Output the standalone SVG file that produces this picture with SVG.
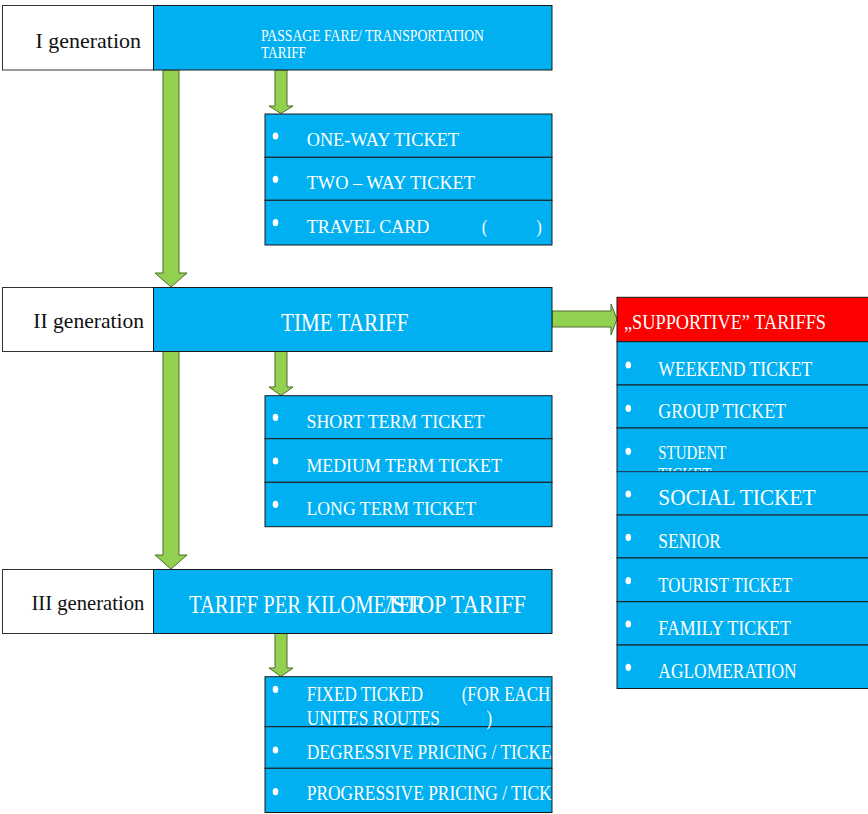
<svg xmlns="http://www.w3.org/2000/svg" width="868" height="814" viewBox="0 0 868 814">
<style>
.lbl{fill:#fff;stroke:#333;stroke-width:1}
.blue{fill:#00B0F0;stroke:#1a1a1a;stroke-width:1}
.red{fill:#FF0000;stroke:#1a1a1a;stroke-width:1}
.arr{fill:#92D050;stroke:#4E6B2E;stroke-width:1}
.t{font-family:"Liberation Serif","Times New Roman",serif;fill:#fff}
.k{font-family:"Liberation Serif","Times New Roman",serif;fill:#111;font-size:22px}
.bul{fill:#fff}
</style>
<defs>
<clipPath id="c3"><rect x="265" y="676" width="287" height="137"/></clipPath>
<clipPath id="cst"><rect x="617" y="428" width="251" height="44"/></clipPath>
</defs>

<g id="connectors">
<polygon class="arr" points="163,70 179,70 179,273 187,273 171,287 155,273 163,273"/>
<polygon class="arr" points="163,351 179,351 179,555 187,555 171,569 155,555 163,555"/>
<polygon class="arr" points="275,70 287,70 287,106 293,106 281,113.5 269,106 275,106"/>
<polygon class="arr" points="275,351 287,351 287,387 293,387 281,395.5 269,387 275,387"/>
<polygon class="arr" points="275,633 287,633 287,668 293,668 281,676.5 269,668 275,668"/>
<polygon class="arr" points="552,311 611,311 611,304 617,319 611,335 611,327 552,327"/>
</g>

<g id="gen1">
<rect class="lbl" x="2.5" y="5.5" width="151" height="64.5"/>
<text class="k" x="35.5" y="47.7" textLength="105.5" lengthAdjust="spacingAndGlyphs">I generation</text>
</g>
<g id="passage">
<rect class="blue" x="153.5" y="5.5" width="398.5" height="64.5"/>
<text class="t" x="261" y="40.7" font-size="16" textLength="223" lengthAdjust="spacingAndGlyphs">PASSAGE FARE/ TRANSPORTATION</text>
<text class="t" x="261" y="58.3" font-size="16" textLength="45" lengthAdjust="spacingAndGlyphs">TARIFF</text>
</g>

<g id="list1">
<rect class="blue" x="265" y="114" width="287" height="43.3"/>
<rect class="blue" x="265" y="157.3" width="287" height="43"/>
<rect class="blue" x="265" y="200.3" width="287" height="44.7"/>
<ellipse class="bul" cx="275.5" cy="136" rx="2.8" ry="3.6"/>
<ellipse class="bul" cx="275.5" cy="179.3" rx="2.8" ry="3.6"/>
<ellipse class="bul" cx="275.5" cy="222.7" rx="2.8" ry="3.6"/>
<text class="t" x="306.7" y="146" font-size="19.5" textLength="152.3" lengthAdjust="spacingAndGlyphs">ONE-WAY TICKET</text>
<text class="t" x="306.7" y="189.3" font-size="19.5" textLength="168.3" lengthAdjust="spacingAndGlyphs">TWO – WAY TICKET</text>
<text class="t" x="306.7" y="232.7" font-size="19.5" textLength="122.6" lengthAdjust="spacingAndGlyphs">TRAVEL CARD</text>
<text class="t" x="481.7" y="232.7" font-size="19.5" textLength="5.5" lengthAdjust="spacingAndGlyphs">(</text>
<text class="t" x="536.2" y="232.7" font-size="19.5" textLength="5.5" lengthAdjust="spacingAndGlyphs">)</text>
</g>

<g id="gen2">
<rect class="lbl" x="2.5" y="287.5" width="151" height="64"/>
<text class="k" x="33.3" y="328.3" textLength="110.7" lengthAdjust="spacingAndGlyphs">II generation</text>
</g>
<g id="time">
<rect class="blue" x="153.5" y="287.5" width="398.5" height="64"/>
<text class="t" x="281" y="330.7" font-size="26" textLength="127.5" lengthAdjust="spacingAndGlyphs">TIME TARIFF</text>
</g>

<g id="list2">
<rect class="blue" x="265" y="395.7" width="287" height="43"/>
<rect class="blue" x="265" y="438.7" width="287" height="43.6"/>
<rect class="blue" x="265" y="482.3" width="287" height="44.4"/>
<ellipse class="bul" cx="275.5" cy="417.3" rx="2.8" ry="3.6"/>
<ellipse class="bul" cx="275.5" cy="461" rx="2.8" ry="3.6"/>
<ellipse class="bul" cx="275.5" cy="504.3" rx="2.8" ry="3.6"/>
<text class="t" x="306.5" y="427.7" font-size="19.5" textLength="178.2" lengthAdjust="spacingAndGlyphs">SHORT TERM TICKET</text>
<text class="t" x="306.5" y="471.7" font-size="19.5" textLength="195.4" lengthAdjust="spacingAndGlyphs">MEDIUM TERM TICKET</text>
<text class="t" x="306.5" y="515" font-size="19.5" textLength="169.6" lengthAdjust="spacingAndGlyphs">LONG TERM TICKET</text>
</g>

<g id="gen3">
<rect class="lbl" x="2.5" y="569.5" width="151" height="64"/>
<text class="k" x="31.4" y="610" textLength="113" lengthAdjust="spacingAndGlyphs">III generation</text>
</g>
<g id="km">
<rect class="blue" x="153.5" y="569.5" width="398.5" height="64"/>
<text class="t" x="189" y="612.7" font-size="26" textLength="236" lengthAdjust="spacingAndGlyphs">TARIFF PER KILOMETER</text>
<text class="t" x="386" y="612.7" font-size="26" textLength="140" lengthAdjust="spacingAndGlyphs">/STOP TARIFF</text>
</g>

<g id="list3">
<rect class="blue" x="265" y="676.7" width="287" height="50"/>
<rect class="blue" x="265" y="726.7" width="287" height="41.6"/>
<rect class="blue" x="265" y="768.3" width="287" height="44.2"/>
<ellipse class="bul" cx="275.5" cy="689.3" rx="2.8" ry="3.6"/>
<ellipse class="bul" cx="275.5" cy="750" rx="2.8" ry="3.6"/>
<ellipse class="bul" cx="275.5" cy="791.7" rx="2.8" ry="3.6"/>
<g clip-path="url(#c3)">
<text class="t" x="306.7" y="700.7" font-size="20" textLength="116.3" lengthAdjust="spacingAndGlyphs">FIXED TICKED</text>
<text class="t" x="461.7" y="700.7" font-size="20" textLength="88.5" lengthAdjust="spacingAndGlyphs">(FOR EACH</text>
<text class="t" x="306.7" y="725" font-size="20" textLength="133.3" lengthAdjust="spacingAndGlyphs">UNITES ROUTES</text>
<text class="t" x="486.5" y="725" font-size="20" textLength="5.6" lengthAdjust="spacingAndGlyphs">)</text>
<text class="t" x="306.7" y="759.3" font-size="20" textLength="245" lengthAdjust="spacingAndGlyphs">DEGRESSIVE PRICING / TICKE</text>
<text class="t" x="306.7" y="800" font-size="20" textLength="245" lengthAdjust="spacingAndGlyphs">PROGRESSIVE PRICING / TICK</text>
</g>
</g>

<g id="supportive">
<rect class="red" x="617" y="297.3" width="252" height="44.4"/>
<text class="t" x="624" y="329.3" font-size="21" textLength="202" lengthAdjust="spacingAndGlyphs">„SUPPORTIVE” TARIFFS</text>
<rect class="blue" x="617" y="341.7" width="252" height="43.3"/>
<rect class="blue" x="617" y="385" width="252" height="43"/>
<rect class="blue" x="617" y="428" width="252" height="43.7"/>
<g clip-path="url(#cst)">
<text class="t" x="658.3" y="459.3" font-size="19" textLength="68" lengthAdjust="spacingAndGlyphs">STUDENT</text>
<text class="t" x="658.3" y="480.8" font-size="19" textLength="53" lengthAdjust="spacingAndGlyphs">TICKET</text>
</g>
<rect class="blue" x="617" y="471.7" width="252" height="43.3" stroke-width="1.5" style="stroke:#1F3F5F"/>
<rect class="blue" x="617" y="515" width="252" height="43"/>
<rect class="blue" x="617" y="558" width="252" height="43.7"/>
<rect class="blue" x="617" y="601.7" width="252" height="43.3"/>
<rect class="blue" x="617" y="645" width="252" height="43.5"/>
<ellipse class="bul" cx="628.3" cy="365" rx="2.8" ry="3.6"/>
<ellipse class="bul" cx="628.3" cy="408.3" rx="2.8" ry="3.6"/>
<ellipse class="bul" cx="628.3" cy="451.3" rx="2.8" ry="3.6"/>
<ellipse class="bul" cx="628.3" cy="494" rx="2.8" ry="3.6"/>
<ellipse class="bul" cx="628.3" cy="537.3" rx="2.8" ry="3.6"/>
<ellipse class="bul" cx="628.3" cy="580.7" rx="2.8" ry="3.6"/>
<ellipse class="bul" cx="628.3" cy="624" rx="2.8" ry="3.6"/>
<ellipse class="bul" cx="628.3" cy="667.3" rx="2.8" ry="3.6"/>
<text class="t" x="658.3" y="376" font-size="21.5" textLength="154" lengthAdjust="spacingAndGlyphs">WEEKEND TICKET</text>
<text class="t" x="658.3" y="418.3" font-size="21.5" textLength="127.7" lengthAdjust="spacingAndGlyphs">GROUP TICKET</text>
<text class="t" x="658.3" y="505" font-size="23" textLength="157.4" lengthAdjust="spacingAndGlyphs">SOCIAL TICKET</text>
<text class="t" x="658.3" y="548.3" font-size="21.5" textLength="62.4" lengthAdjust="spacingAndGlyphs">SENIOR</text>
<text class="t" x="658.3" y="591.7" font-size="21.5" textLength="134" lengthAdjust="spacingAndGlyphs">TOURIST TICKET</text>
<text class="t" x="658.3" y="635" font-size="21.5" textLength="132.7" lengthAdjust="spacingAndGlyphs">FAMILY TICKET</text>
<text class="t" x="658.3" y="677.7" font-size="21.5" textLength="138.4" lengthAdjust="spacingAndGlyphs">AGLOMERATION</text>
</g>
</svg>
